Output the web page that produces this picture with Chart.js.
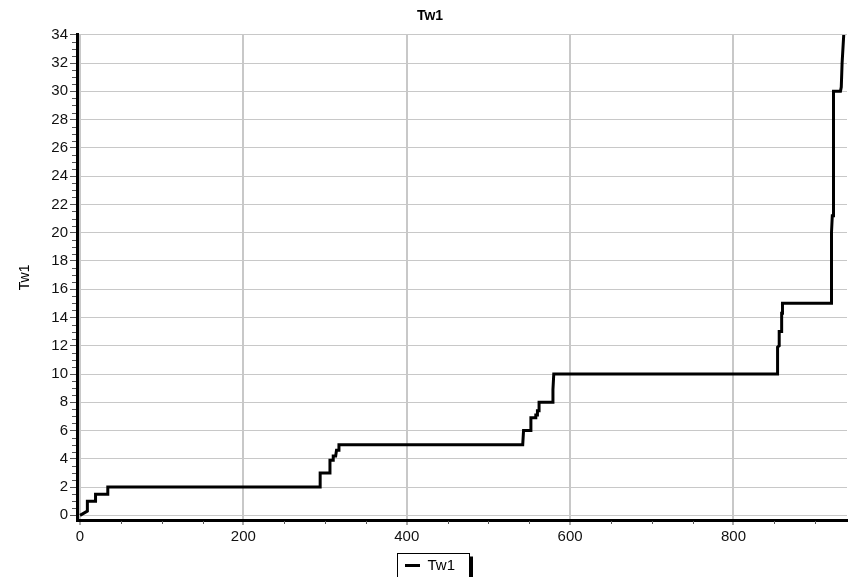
<!DOCTYPE html>
<html>
<head>
<meta charset="utf-8">
<script src="https://cdn.jsdelivr.net/npm/chart.js@4.4.0/dist/chart.umd.min.js"></script>
<style>
  html, body { margin: 0; padding: 0; background: #fff; overflow: hidden; }
</style>
</head>
<body>
<canvas id="graficoLinea" width="851" height="583"></canvas>
<script>
// Datos (curva escalonada de Tw1)
const xValores = [0, 9, 9, 19, 19, 34, 34, 294, 294, 305, 306, 310, 310, 313, 314, 316, 317,
                  542, 543, 552, 552, 558, 558, 560, 560, 562, 562, 579, 579, 580,
                  854, 854, 856, 856, 859, 859, 860, 860, 920, 920, 921, 922, 922, 923, 931, 932, 933, 935];
const yValores = [0, 0.3, 1, 1, 1.5, 1.5, 2, 2, 3, 3, 3.9, 3.9, 4.2, 4.2, 4.6, 4.6, 5,
                  5, 6, 6, 6.9, 6.9, 7.1, 7.1, 7.4, 7.4, 8, 8, 8.9, 10,
                  10, 11.9, 12, 13, 13, 14.3, 14.3, 15, 15, 20, 21.2, 21.2, 27.8, 30, 30, 30.3, 32, 34];
const nombreSerie = 'Tw1';
const tituloGrafico = 'Tw1';
const tituloEjeY = 'Tw1';
const pasoX = 200, pasoXMenor = 50;
const pasoY = 2, pasoYMenor = 0.5;
const rangoX = [-3.7, 939];
const rangoY = [-0.33, 34];

const puntos = xValores.map((x, i) => ({ x: x, y: yValores[i] }));
const fuente = 'Arial, "Liberation Sans", sans-serif';

// Marcas menores de los ejes y recuadro de la leyenda
const extras = {
    id: 'extras',
    afterDraw(chart) {
        const ctx = chart.ctx;
        const area = chart.chartArea;
        const ex = chart.scales.x, ey = chart.scales.y;
        ctx.save();
        ctx.strokeStyle = '#555';
        ctx.lineWidth = 1;
        ctx.beginPath();
        for (let v = 0; v <= rangoY[1]; v += pasoYMenor) {
            if (v % pasoY === 0) continue;
            const py = Math.round(ey.getPixelForValue(v)) + 0.5;
            ctx.moveTo(area.left - 5, py);
            ctx.lineTo(area.left - 1, py);
        }
        for (let v = pasoXMenor; v <= rangoX[1]; v += pasoXMenor) {
            if (v % pasoX === 0) continue;
            const px = Math.round(ex.getPixelForValue(v)) + 0.5;
            ctx.moveTo(px, area.bottom + 1);
            ctx.lineTo(px, area.bottom + 4);
        }
        ctx.stroke();

        // recuadro con sombra alrededor de la leyenda
        const caja = chart.legend.legendHitBoxes[0];
        if (caja) {
            const cy = caja.top + caja.height / 2;
            const l = Math.round(caja.left - 8) + 0.5;
            const r = Math.round(caja.left + caja.width + 14) + 0.5;
            const t = Math.round(cy - 13) + 0.5;
            const b = chart.height + 2;
            ctx.strokeStyle = '#000';
            ctx.strokeRect(l, t, r - l, b - t);
            ctx.fillStyle = '#000';
            ctx.fillRect(r + 0.5, t + 3, 3, b - t);
        }
        ctx.restore();
    }
};

const ctx = document.getElementById('graficoLinea').getContext('2d');
new Chart(ctx, {
    type: 'line',
    data: {
        datasets: [{
            label: nombreSerie,
            data: puntos,
            borderColor: '#000',
            backgroundColor: '#000',
            borderWidth: 3,
            pointRadius: 0,
            tension: 0,
            fill: false
        }]
    },
    options: {
        responsive: false,
        animation: false,
        layout: { padding: { left: 13, right: 4, top: 0, bottom: 0 } },
        plugins: {
            title: {
                display: true,
                text: tituloGrafico,
                color: '#000',
                font: { family: fuente, size: 14, weight: 'bold' },
                padding: { top: 7.6, bottom: 10.4 }
            },
            legend: {
                position: 'bottom',
                labels: {
                    usePointStyle: true,
                    pointStyle: 'line',
                    pointStyleWidth: 15,
                    color: '#000',
                    font: { family: fuente, size: 15 },
                    padding: 10
                }
            },
            tooltip: { enabled: false }
        },
        scales: {
            x: {
                type: 'linear',
                min: rangoX[0],
                max: rangoX[1],
                afterFit: s => { s.height = 28; },
                ticks: {
                    stepSize: pasoX,
                    includeBounds: false,
                    maxRotation: 0,
                    color: '#111',
                    font: { family: fuente, size: 15 },
                    padding: 3
                },
                grid: { color: '#c8c8c8', lineWidth: 2, tickColor: '#555', tickLength: 5, tickWidth: 1 },
                border: { color: '#000', width: 3 }
            },
            y: {
                min: rangoY[0],
                max: rangoY[1],
                afterFit: s => { s.width = 64; },
                ticks: {
                    stepSize: pasoY,
                    includeBounds: false,
                    color: '#111',
                    font: { family: fuente, size: 15 },
                    padding: 2
                },
                title: {
                    display: true,
                    text: tituloEjeY,
                    color: '#000',
                    font: { family: fuente, size: 14 },
                    padding: { top: 3.5, bottom: 0 }
                },
                grid: { color: '#c8c8c8', lineWidth: 1, tickColor: '#555', tickLength: 7, tickWidth: 1 },
                border: { color: '#000', width: 3 }
            }
        }
    },
    plugins: [extras]
});
</script>
</body>
</html>
